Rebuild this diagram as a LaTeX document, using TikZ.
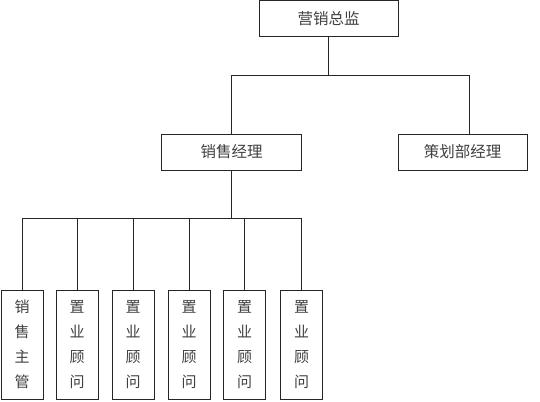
\documentclass[tikz,border=0pt]{standalone}
\usepackage{fontspec}
\newfontfamily\cjk{Noto Sans CJK SC}
\begin{document}
\begin{tikzpicture}[x=1pt,y=-1pt,
  box/.style={draw=black!85, line width=0.9pt, fill=white, text=black!75, font=\cjk\fontsize{15.5}{15.5}\selectfont, inner sep=0pt},
  wide/.style={box, minimum height=36pt},
  tall/.style={box, minimum width=42pt, minimum height=109pt, align=center, font=\cjk\fontsize{15}{25}\selectfont},
  conn/.style={draw=black!85, line width=0.9pt}]
\useasboundingbox[fill=white] (0,0) rectangle (540,401);
\node[wide, minimum width=139pt] (t) at (328.5,18.5) {营销总监};
\node[wide, minimum width=140pt] (s) at (231.5,152) {销售经理};
\node[wide, minimum width=129pt] (p) at (462.5,152) {策划部经理};
\node[tall] (c1) at (22,344.5) {销\\售\\主\\管};
\node[tall] (c2) at (77,344.5) {置\\业\\顾\\问};
\node[tall] (c3) at (133,344.5) {置\\业\\顾\\问};
\node[tall] (c4) at (189,344.5) {置\\业\\顾\\问};
\node[tall] (c5) at (244.5,344.5) {置\\业\\顾\\问};
\node[tall] (c6) at (301.5,344.5) {置\\业\\顾\\问};
\coordinate (b1) at (0,75);
\coordinate (b2) at (0,218);
\coordinate (pn) at ([xshift=6.5pt]p.north);
\draw[conn] (t.south) -- (t.south |- b1);
\draw[conn] (s.north) -- (s.north |- b1) -- (pn |- b1) -- (pn);
\draw[conn] (s.south) -- (s.south |- b2);
\draw[conn] (c1.north) -- (c1.north |- b2) -- (c6.north |- b2) -- (c6.north);
\foreach \c in {c2,c3,c4,c5} \draw[conn] (\c.north) -- (\c.north |- b2);
\end{tikzpicture}
\end{document}
